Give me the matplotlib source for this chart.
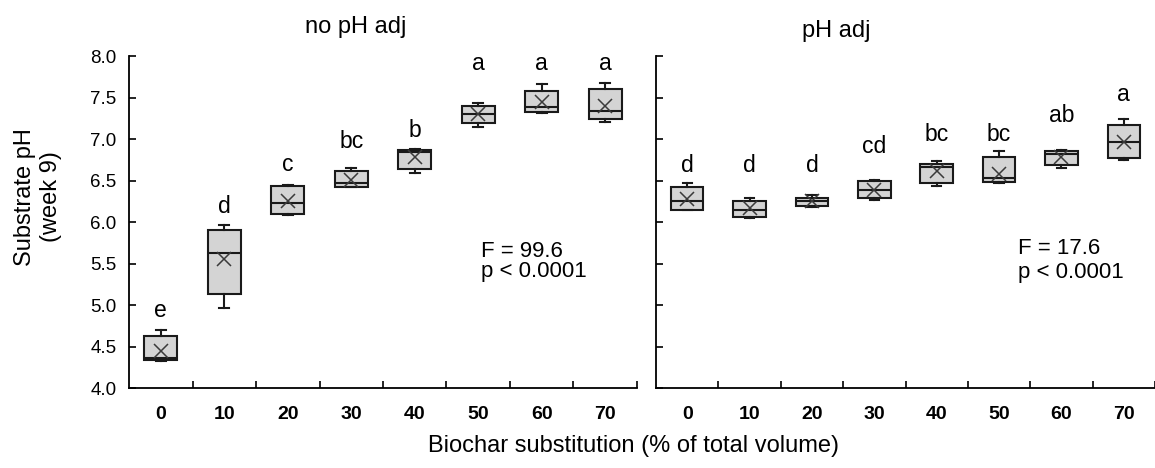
import numpy as np
import matplotlib.pyplot as plt

plt.rcParams['font.family'] = ['Liberation Sans', 'DejaVu Sans']

substitution = ['0', '10', '20', '30', '40', '50', '60', '70']

# no pH adj panel (read from boxes)
noadj_whislo = [4.33, 4.96, 6.09, 6.42, 6.59, 7.15, 7.31, 7.21]
noadj_q1 = [4.34, 5.13, 6.10, 6.42, 6.64, 7.19, 7.32, 7.24]
noadj_med = [4.36, 5.63, 6.23, 6.47, 6.84, 7.30, 7.38, 7.34]
noadj_q3 = [4.63, 5.90, 6.43, 6.61, 6.87, 7.40, 7.58, 7.60]
noadj_whishi = [4.70, 5.97, 6.45, 6.65, 6.88, 7.43, 7.66, 7.68]
noadj_mean = [4.44, 5.55, 6.25, 6.51, 6.78, 7.30, 7.44, 7.40]
noadj_letters = ['e', 'd', 'c', 'bc', 'b', 'a', 'a', 'a']
noadj_letter_y = [4.86, 6.11, 6.62, 6.89, 7.03, 7.83, 7.83, 7.83]

# pH adj panel
adj_whislo = [6.14, 6.05, 6.18, 6.27, 6.43, 6.47, 6.65, 6.75]
adj_q1 = [6.15, 6.06, 6.19, 6.29, 6.47, 6.48, 6.69, 6.77]
adj_med = [6.25, 6.14, 6.25, 6.39, 6.66, 6.53, 6.82, 6.96]
adj_q3 = [6.42, 6.25, 6.29, 6.50, 6.70, 6.78, 6.86, 7.17]
adj_whishi = [6.47, 6.29, 6.32, 6.51, 6.73, 6.86, 6.87, 7.24]
adj_mean = [6.28, 6.17, 6.25, 6.39, 6.62, 6.58, 6.78, 6.96]
adj_letters = ['d', 'd', 'd', 'cd', 'bc', 'bc', 'ab', 'a']
adj_letter_y = [6.60, 6.60, 6.60, 6.83, 6.98, 6.98, 7.20, 7.46]

stats_text = [('F = 99.6', 'p < 0.0001'), ('F = 17.6', 'p < 0.0001')]

fig = plt.figure(figsize=(11.55, 4.68), dpi=100)
ax1 = fig.add_axes([0.1117, 0.1709, 0.4398, 0.7094])
ax2 = fig.add_axes([0.568, 0.1709, 0.432, 0.7094])


def draw_panel(ax, lo, q1, med, q3, hi, mean, letters, letter_y):
    stats = []
    for i in range(len(substitution)):
        stats.append({'whislo': lo[i], 'q1': q1[i], 'med': med[i], 'q3': q3[i],
                      'whishi': hi[i], 'mean': mean[i], 'fliers': []})
    pos = np.arange(len(substitution))
    ax.bxp(stats, positions=pos, widths=0.52, capwidths=0.15, patch_artist=True,
           showmeans=True, showfliers=False,
           boxprops=dict(facecolor='#d4d4d4', edgecolor='#1a1a1a', linewidth=1.5),
           medianprops=dict(color='#1a1a1a', linewidth=1.5),
           whiskerprops=dict(color='#1a1a1a', linewidth=1.5),
           capprops=dict(color='#1a1a1a', linewidth=1.5),
           meanprops=dict(marker='x', markeredgecolor='#3a3a3a', markersize=10,
                          markeredgewidth=1.1))
    for i, lab in enumerate(letters):
        ax.text(pos[i], letter_y[i], lab, ha='center', va='baseline', fontsize=16.5)
    ax.set_xlim(-0.5, 7.5)
    ax.set_ylim(4.0, 8.0)
    ax.set_yticks(np.arange(4.0, 8.01, 0.5))
    ax.set_xticks(pos)
    ax.set_xticklabels(substitution, fontweight='bold')
    ax.set_xticks(np.arange(0.5, 8, 1), minor=True)
    ax.tick_params(axis='x', which='major', length=0, labelsize=14, pad=13)
    ax.tick_params(axis='x', which='minor', direction='in', length=5, width=1.2)
    ax.tick_params(axis='y', direction='in', length=5, width=1.2, labelsize=13.5, pad=9)
    for s in ['top', 'right']:
        ax.spines[s].set_visible(False)
    for s in ['left', 'bottom']:
        ax.spines[s].set_linewidth(1.3)


draw_panel(ax1, noadj_whislo, noadj_q1, noadj_med, noadj_q3, noadj_whishi,
           noadj_mean, noadj_letters, noadj_letter_y)
draw_panel(ax2, adj_whislo, adj_q1, adj_med, adj_q3, adj_whishi,
           adj_mean, adj_letters, adj_letter_y)
ax2.set_yticklabels([])

ax1.text(5.05, 5.58, stats_text[0][0], ha='left', va='baseline', fontsize=16)
ax1.text(5.05, 5.34, stats_text[0][1], ha='left', va='baseline', fontsize=16)
ax2.text(5.31, 5.61, stats_text[1][0], ha='left', va='baseline', fontsize=16)
ax2.text(5.31, 5.33, stats_text[1][1], ha='left', va='baseline', fontsize=16)

fig.text(356 / 1155, 1 - 33 / 468, 'no pH adj', ha='center', va='baseline', fontsize=17)
fig.text(836 / 1155, 1 - 37 / 468, 'pH adj', ha='center', va='baseline', fontsize=17)
fig.text(634 / 1155, 1 - 446 / 468, 'Biochar substitution (% of total volume)',
         ha='center', va='center', fontsize=17)
fig.text(38 / 1155, 1 - 197 / 468, 'Substrate pH\n(week 9)', ha='center', va='center',
         rotation=90, fontsize=17, linespacing=1.25)

fig.savefig('out.png', dpi=100)
